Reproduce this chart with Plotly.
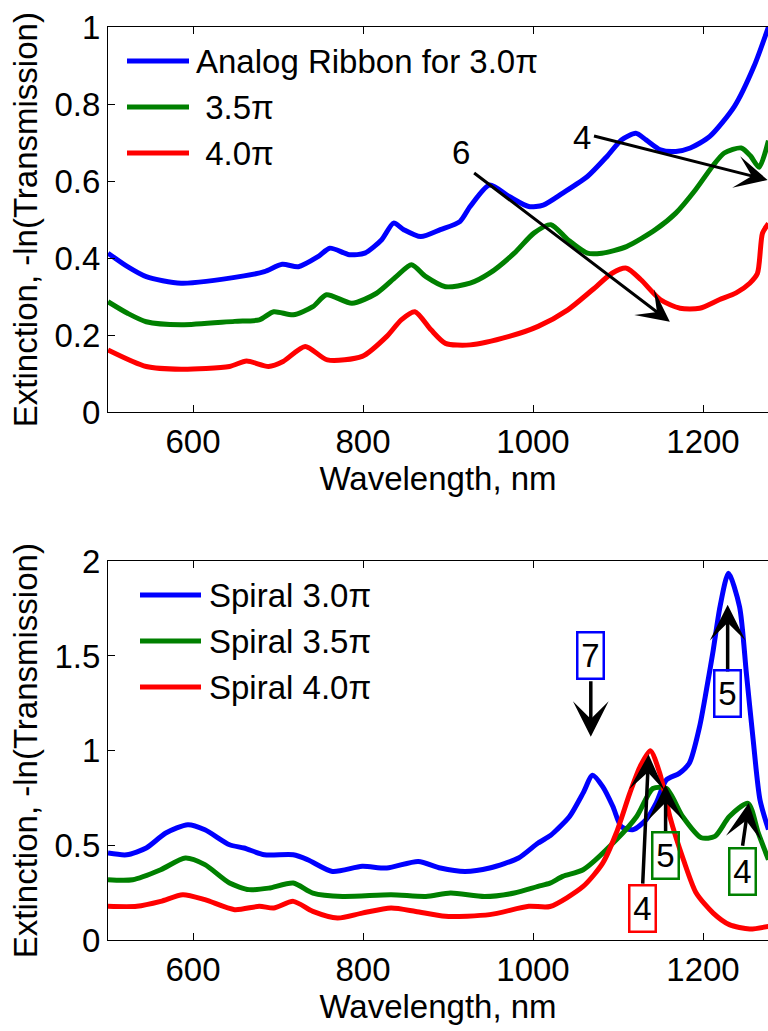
import plotly.graph_objects as go

# ---------------- Top panel: analog ribbons ----------------
rib30_wl = [500, 523, 545, 586, 660, 684, 705, 724, 747, 761, 784, 802, 822, 836, 848, 868,
            891, 914, 926, 949, 972, 995, 1012, 1035, 1064, 1087, 1104, 1121, 1133, 1150,
            1168, 1185, 1208, 1237, 1260, 1277]
rib30_ext = [0.413, 0.378, 0.352, 0.335, 0.354, 0.365, 0.384, 0.378, 0.404, 0.426, 0.409, 0.413,
             0.448, 0.491, 0.474, 0.456, 0.474, 0.495, 0.534, 0.590, 0.560, 0.534, 0.538, 0.569,
             0.612, 0.664, 0.707, 0.724, 0.707, 0.681, 0.677, 0.686, 0.716, 0.794, 0.898, 1.000]

rib35_wl = [500, 523, 545, 586, 649, 678, 695, 718, 741, 757, 787, 816, 839, 857, 874, 897,
            926, 949, 978, 1001, 1021, 1041, 1064, 1081, 1110, 1144, 1168, 1191, 1211, 1225,
            1245, 1256, 1266, 1277]
rib35_ext = [0.287, 0.257, 0.235, 0.227, 0.236, 0.240, 0.261, 0.253, 0.274, 0.305, 0.283, 0.309,
             0.352, 0.383, 0.352, 0.326, 0.335, 0.361, 0.413, 0.465, 0.487, 0.448, 0.413, 0.413,
             0.430, 0.474, 0.517, 0.577, 0.638, 0.673, 0.686, 0.665, 0.636, 0.705]

rib40_wl = [500, 545, 586, 643, 663, 689, 706, 732, 758, 799, 828, 845, 861, 880, 897, 926,
            972, 1006, 1041, 1070, 1093, 1110, 1127, 1150, 1173, 1196, 1219, 1239, 1255, 1264,
            1270, 1277]
rib40_ext = [0.162, 0.119, 0.112, 0.119, 0.133, 0.119, 0.132, 0.171, 0.136, 0.145, 0.197, 0.240,
             0.261, 0.214, 0.179, 0.175, 0.197, 0.223, 0.266, 0.318, 0.361, 0.374, 0.344, 0.292,
             0.270, 0.270, 0.292, 0.310, 0.335, 0.360, 0.465, 0.490]

# ---------------- Bottom panel: spirals ----------------
sp30_wl = [500, 522, 545, 568, 594, 614, 643, 660, 684, 718, 735, 764, 799, 828, 865, 891,
           920, 949, 983, 1006, 1020, 1028, 1043, 1059, 1070, 1082, 1094, 1104, 1118, 1133,
           1145, 1157, 1172, 1184, 1196, 1204, 1212, 1220, 1230, 1243, 1251, 1259, 1267, 1277]
sp30_ext = [0.459, 0.450, 0.486, 0.565, 0.609, 0.582, 0.503, 0.486, 0.450, 0.450, 0.424, 0.362,
            0.389, 0.380, 0.415, 0.380, 0.362, 0.380, 0.433, 0.512, 0.550, 0.582, 0.652, 0.777,
            0.870, 0.810, 0.705, 0.598, 0.583, 0.635, 0.724, 0.846, 0.880, 0.935, 1.127, 1.320,
            1.530, 1.760, 1.937, 1.760, 1.410, 1.057, 0.741, 0.583]

sp35_wl = [500, 529, 562, 591, 614, 643, 666, 689, 718, 741, 776, 833, 874, 903, 943, 978,
           1006, 1020, 1035, 1059, 1098, 1122, 1141, 1157, 1176, 1198, 1214, 1231, 1253, 1265,
           1277]
sp35_ext = [0.318, 0.318, 0.371, 0.433, 0.398, 0.301, 0.266, 0.274, 0.301, 0.248, 0.230, 0.239,
            0.230, 0.248, 0.230, 0.248, 0.283, 0.300, 0.336, 0.371, 0.529, 0.652, 0.800, 0.800,
            0.652, 0.540, 0.547, 0.652, 0.722, 0.566, 0.424]

sp40_wl = [500, 534, 562, 588, 614, 649, 678, 695, 718, 741, 770, 799, 833, 862, 897, 949,
           995, 1020, 1059, 1082, 1098, 1114, 1126, 1138, 1149, 1161, 1177, 1192, 1212, 1231,
           1255, 1277]
sp40_ext = [0.178, 0.178, 0.204, 0.239, 0.213, 0.160, 0.178, 0.169, 0.204, 0.151, 0.116, 0.142,
            0.169, 0.151, 0.125, 0.134, 0.178, 0.177, 0.283, 0.406, 0.565, 0.777, 0.916, 1.000,
            0.883, 0.652, 0.424, 0.248, 0.142, 0.081, 0.058, 0.072]

top_names = ["Analog Ribbon for 3.0\u03c0", "\u00a03.5\u03c0", "\u00a04.0\u03c0"]
bottom_names = ["Spiral 3.0\u03c0", "Spiral 3.5\u03c0", "Spiral 4.0\u03c0"]
colors = ["#0000ff", "#008000", "#ff0000"]

x_ticks = [600, 800, 1000, 1200]
top_y_ticks = [0, 0.2, 0.4, 0.6, 0.8, 1]
top_y_labels = ["0", "0.2", "0.4", "0.6", "0.8", "1"]
bottom_y_ticks = [0, 0.5, 1, 1.5, 2]
bottom_y_labels = ["0", "0.5", "1", "1.5", "2"]

# Mode-order callouts in the top panel: label position, arrow tail, arrow head
top_call_text = ["6", "4"]
top_call_lx = [915, 1058]
top_call_ly = [0.673, 0.712]
top_call_tx = [929, 1070]
top_call_ty = [0.624, 0.718]
top_call_hx = [1161, 1276]
top_call_hy = [0.235, 0.603]

# Boxed callouts in the bottom panel
bot_call_text = ["7", "5", "4", "5", "4"]
bot_call_color = ["#0000ff", "#0000ff", "#ff0000", "#008000", "#008000"]
bot_call_bx = [1068, 1229, 1128.5, 1156, 1246]
bot_call_by = [1.50, 1.30, 0.165, 0.447, 0.363]
bot_call_tx = [1068, 1229, 1129, 1156, 1246.3]
bot_call_ty = [1.374, 1.41, 0.29, 0.56, 0.49]
bot_call_hx = [1068, 1229, 1136, 1156, 1253.8]
bot_call_hy = [1.073, 1.77, 0.98, 0.82, 0.724]

W, H = 768, 1031
L, R, T, B = 108, 0, 27, 91
PW, PH = W - L - R, H - T - B
FONT = "Liberation Sans, Arial, Helvetica, sans-serif"
FS = 33


def px(xp):
    return (xp - L) / PW


def py(yp):
    return (H - B - yp) / PH


fig = go.Figure()

curve_line = dict(width=5, shape="spline", smoothing=0.7)

top_series = [(rib30_wl, rib30_ext), (rib35_wl, rib35_ext), (rib40_wl, rib40_ext)]
for (wl, ext), c in zip(top_series, colors):
    fig.add_trace(go.Scatter(x=wl, y=ext, mode="lines", line=dict(color=c, **curve_line),
                             xaxis="x", yaxis="y", showlegend=False))

bot_series = [(sp30_wl, sp30_ext), (sp35_wl, sp35_ext), (sp40_wl, sp40_ext)]
for (wl, ext), c in zip(bot_series, colors):
    fig.add_trace(go.Scatter(x=wl, y=ext, mode="lines", line=dict(color=c, **curve_line),
                             xaxis="x2", yaxis="y2", showlegend=False))

x_range = [500, 500 + PW / 0.85]
top_dom = [py(412.3), 1.0]
bot_dom = [0.0, py(561.3)]

axis_common = dict(showline=True, linecolor="black", linewidth=1, ticks="inside",
                   ticklen=7, tickcolor="black", tickwidth=1, showgrid=False,
                   zeroline=False, tickfont=dict(family=FONT, size=FS, color="black"))

fig.update_layout(
    width=W, height=H, margin=dict(l=L, r=R, t=T, b=B),
    paper_bgcolor="white", plot_bgcolor="white",
    font=dict(family=FONT, size=FS, color="black"),
    xaxis=dict(domain=[0, 1], range=x_range, anchor="y", tickvals=x_ticks, mirror="ticks",
               title=dict(text="Wavelength, nm", standoff=0, font=dict(size=FS)), **axis_common),
    yaxis=dict(domain=top_dom, range=[0, 1], anchor="x", tickvals=top_y_ticks,
               ticktext=top_y_labels,
               title=dict(text="Extinction, -ln(Transmission)", standoff=6, font=dict(size=FS)),
               **axis_common),
    xaxis2=dict(domain=[0, 1], range=x_range, anchor="y2", tickvals=x_ticks, mirror="ticks",
                title=dict(text="Wavelength, nm", standoff=0, font=dict(size=FS)), **axis_common),
    yaxis2=dict(domain=bot_dom, range=[0, 2], anchor="x2", tickvals=bottom_y_ticks,
                ticktext=bottom_y_labels,
                title=dict(text="Extinction, -ln(Transmission)", standoff=6, font=dict(size=FS)),
                **axis_common),
)

shapes = []
annotations = []


# Legends drawn as line samples with labels
def add_legend(names, x0, x1, xt, rows):
    for name, c, yrow in zip(names, colors, rows):
        shapes.append(dict(type="line", xref="paper", yref="paper", x0=px(x0), x1=px(x1),
                           y0=py(yrow), y1=py(yrow), line=dict(color=c, width=5)))
        annotations.append(dict(xref="paper", yref="paper", x=px(xt), y=py(yrow),
                                xanchor="left", yanchor="middle", text=name, showarrow=False,
                                font=dict(family=FONT, size=FS, color="black")))


add_legend(top_names, 127, 189, 194, [61, 107, 153])
add_legend(bottom_names, 140, 201, 207, [595, 641, 687])

for t, lx, ly, tx, ty, hx, hy in zip(top_call_text, top_call_lx, top_call_ly, top_call_tx,
                                      top_call_ty, top_call_hx, top_call_hy):
    annotations.append(dict(xref="x", yref="y", x=lx, y=ly, text=t, showarrow=False,
                            font=dict(family=FONT, size=FS, color="black")))
    annotations.append(dict(xref="x", yref="y", axref="x", ayref="y", x=hx, y=hy, ax=tx, ay=ty,
                            text="", showarrow=True, arrowhead=3, arrowwidth=3,
                            arrowsize=1.8, arrowcolor="black", standoff=0, startstandoff=0))

for t, c, bx, by, tx, ty, hx, hy in zip(bot_call_text, bot_call_color, bot_call_bx, bot_call_by,
                                         bot_call_tx, bot_call_ty, bot_call_hx, bot_call_hy):
    annotations.append(dict(xref="x2", yref="y2", axref="x2", ayref="y2", x=hx, y=hy,
                            ax=tx, ay=ty, text="", showarrow=True, arrowhead=3, arrowwidth=3.5,
                            arrowsize=1.7, arrowcolor="black", standoff=0, startstandoff=0))
    annotations.append(dict(xref="x2", yref="y2", x=bx, y=by, text=t, showarrow=False,
                            width=22, height=42, borderpad=1, borderwidth=2.5, bordercolor=c,
                            bgcolor="rgba(0,0,0,0)",
                            font=dict(family=FONT, size=FS, color="black")))

fig.update_layout(shapes=shapes, annotations=annotations)
fig.write_html("out.html")
